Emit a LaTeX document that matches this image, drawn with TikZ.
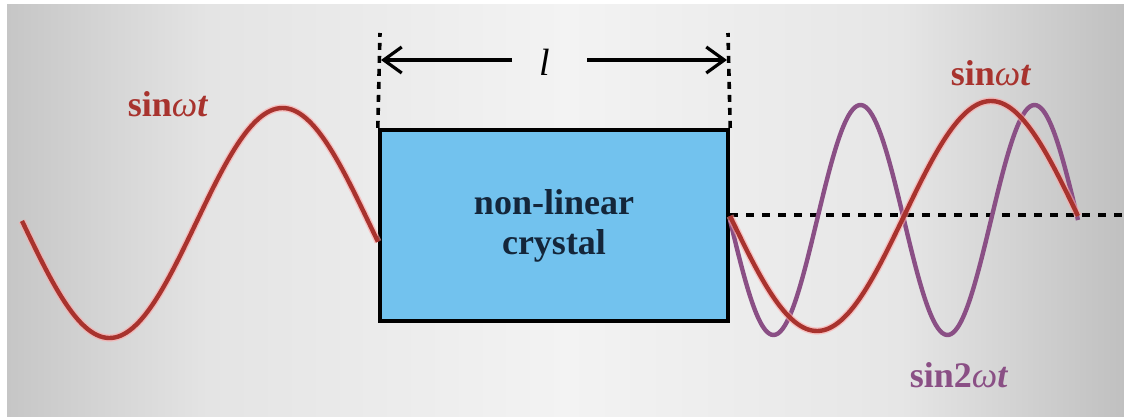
\documentclass[tikz,border=0pt]{standalone}
\usepackage{fontspec}
\setmainfont{Liberation Serif}
\usetikzlibrary{positioning, arrows.meta}

\definecolor{xtalblue}{HTML}{72C2EE}
\definecolor{xtalink}{HTML}{14263A}
\definecolor{wavered}{HTML}{A8332E}
\definecolor{wavepurple}{HTML}{8A4F85}
\definecolor{bgedgeL}{HTML}{C6C6C6}
\definecolor{bgmidL}{HTML}{E4E4E4}
\definecolor{bglight}{HTML}{F3F3F3}
\definecolor{bgmidR}{HTML}{E6E6E6}
\definecolor{bgedgeR}{HTML}{C0C0C0}
\pgfdeclarehorizontalshading{bgshade}{100bp}{color(0bp)=(bgedgeL);
  color(25bp)=(bgedgeL); color(34bp)=(bgmidL); color(50bp)=(bglight);
  color(65bp)=(bgmidR); color(75bp)=(bgedgeR); color(100bp)=(bgedgeR)}

\begin{document}
\begin{tikzpicture}[x=0.5pt, y=-0.5pt,
      xtal/.style={rectangle, draw=black, fill=xtalblue, line width=2.2pt,
        minimum width=174pt, minimum height=95.5pt, align=center,
        font=\fontsize{18}{20}\selectfont\bfseries, text=xtalink},
      lbl/.style={font=\fontsize{18}{20}\selectfont},
      glow/.style={line width=3.6pt, red!35, opacity=0.6},
      redwave/.style={line width=2.2pt, wavered},
      purwave/.style={line width=2.2pt, wavepurple},
      guide/.style={draw, line width=1.8pt, dash pattern=on 3.5pt off 3pt},
      axis/.style={draw, line width=2pt, dash pattern=on 4pt off 4pt},
      dimarr/.style={-{Straight Barb[length=9pt, width=13pt]}, draw,
        line width=1.6pt}
    ]
    \useasboundingbox (0,0) rectangle (1124,417);
    % === background ===
    \shade[shading=bgshade] (7,5) rectangle (1124,417);
    % === crystal ===
    \node[xtal] (xtal) at (554,225.5) {non-linear\\crystal};
    % guide lines above the crystal
    \coordinate (gl) at (380,33);
    \coordinate (gr) at (728,33);
    \draw[guide] (xtal.north west) -- (gl);
    \draw[guide] (xtal.north east) -- (gr);
    % === length arrows ===
    \node[font=\fontsize{19}{20}\selectfont\itshape] (len) at (545,62) {l};
    \coordinate (al) at (512,60);
    \coordinate (ar) at (587,60);
    \coordinate (tl) at (381,60);
    \coordinate (tr) at (727,60);
    \draw[dimarr] (al) -- (tl);
    \draw[dimarr] (ar) -- (tr);
    % === axis on the right ===
    \coordinate (ax) at (1124,215);
    \draw[axis] (xtal.east |- ax) -- (ax);
    % === incoming wave ===
    \draw[glow] plot[domain=22:378, samples=120, smooth]
      (\x, {223+115*sin((\x-23)*1.0405)});
    \draw[redwave] plot[domain=22:378, samples=120, smooth]
      (\x, {223+115*sin((\x-23)*1.0405)});
    % === outgoing waves ===
    \draw[purwave] plot[domain=730:1078, samples=160, smooth]
      (\x, {220+115*sin((\x-730)*2.069)});
    \draw[glow] plot[domain=730:1078, samples=120, smooth]
      (\x, {216+115*sin((\x-730)*1.0345)});
    \draw[redwave] plot[domain=730:1078, samples=120, smooth]
      (\x, {216+115*sin((\x-730)*1.0345)});
    % === labels ===
    \node[lbl, text=wavered] (inlbl) at (168,104)
      {\textbf{sin}\textit{ω}\textbf{\textit{t}}};
    \node[lbl, text=wavered] (outlbl) at (991,73)
      {\textbf{sin}\textit{ω}\textbf{\textit{t}}};
    \node[lbl, text=wavepurple] (shglbl) at (959,375)
      {\textbf{sin2}\textit{ω}\textbf{\textit{t}}};
  \end{tikzpicture}
\end{document}
